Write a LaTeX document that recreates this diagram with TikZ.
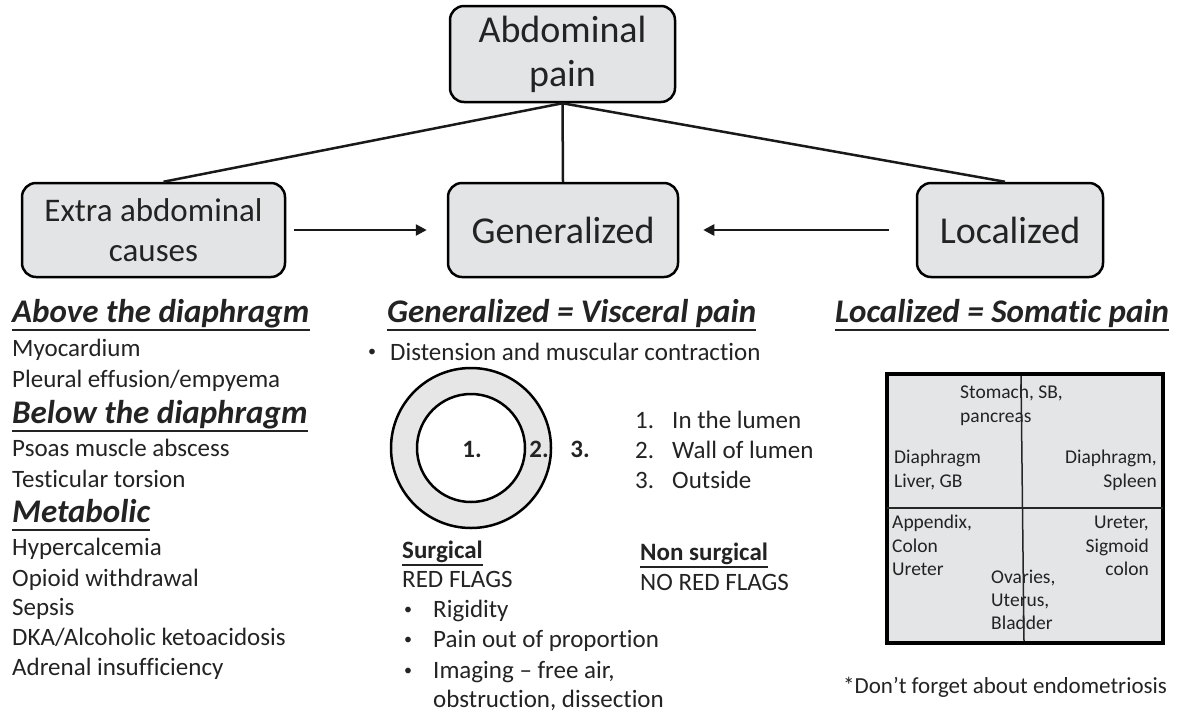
\documentclass[tikz,border=0pt]{standalone}
\usepackage{fontspec}
\setmainfont[Ligatures=NoCommon]{Carlito}
\usetikzlibrary{arrows.meta}
\definecolor{txt}{RGB}{35,35,35}
\definecolor{boxgray}{RGB}{227,228,230}
\definecolor{ringgray}{RGB}{230,230,230}
\definecolor{quadgray}{RGB}{228,229,231}
\newcommand\bodyf{\fontsize{25}{30}\selectfont}
\newcommand\quadf{\fontsize{19.5}{24}\selectfont}
\newcommand\headf{\fontsize{33}{38}\selectfont\bfseries\itshape}
\tikzset{
  box/.style={draw=black, line width=2.5pt, fill=boxgray, rounded corners=14pt,
    align=center, text=txt, inner sep=0pt},
  conn/.style={line width=2.5pt, draw=black!90},
  arr/.style={line width=2.5pt, draw=black!90, -{Triangle[length=11pt,width=11pt]}},
  lbl/.style={anchor=base west, inner sep=0pt, text=txt, font=\bodyf},
  bul/.style={anchor=base west, inner sep=0pt, text=txt, font=\fontsize{16}{20}\selectfont},
  lble/.style={anchor=base east, inner sep=0pt, text=txt, font=\quadf},
  qlbl/.style={anchor=base west, inner sep=0pt, text=txt, font=\quadf},
  head/.style={anchor=base west, inner sep=0pt, text=txt, font=\headf},
  sub/.style={anchor=base west, inner sep=0pt, text=txt, font=\bodyf\bfseries},
  ul/.style={line width=2.5pt, draw=txt},
  ring/.style={circle, draw=black, line width=2.5pt, inner sep=0pt},
}
\begin{document}
\begin{tikzpicture}[x=1pt,y=-1pt]
\useasboundingbox (0,0) rectangle (1178,713);
\fill[white] (0,0) rectangle (1178,713);

% boxes
\node[box, minimum width=225pt, minimum height=96pt, font=\fontsize{38}{44}\selectfont] (abd) at (562.5,54) {Abdominal\\pain};
\node[box, minimum width=263pt, minimum height=94pt, font=\fontsize{33}{40}\selectfont] (extra) at (153.5,230) {Extra abdominal\\causes};
\node[box, minimum width=230pt, minimum height=94pt, font=\fontsize{38}{44}\selectfont] (gen) at (563,230) {Generalized};
\node[box, minimum width=186pt, minimum height=94pt, font=\fontsize{38}{44}\selectfont] (loc) at (1010,230) {Localized};

% connectors
\draw[conn] (abd.south) -- (gen.north);
\draw[conn] (abd.south) -- ([xshift=10pt]extra.north);
\draw[conn] (abd.south) -- ([xshift=-5pt]loc.north);
\draw[arr] ([xshift=8pt]extra.east) -- ([xshift=-20pt]gen.west);
\draw[arr] ([xshift=-27pt]loc.west) -- ([xshift=24pt]gen.east);

% left column
\node[head] (h1) at (12,322) {Above the diaphragm};
\draw[ul] ([yshift=-8pt]h1.base west) -- ([yshift=-8pt]h1.base east);
\node[lbl] (l1) at (12,356) {Myocardium};
\node[lbl] (l2) at (12,387) {Pleural effusion/empyema};
\node[head] (h2) at (12,423) {Below the diaphragm};
\draw[ul] ([yshift=-8pt]h2.base west) -- ([yshift=-8pt]h2.base east);
\node[lbl] (l3) at (12,456) {Psoas muscle abscess};
\node[lbl] (l4) at (12,487) {Testicular torsion};
\node[head] (h3) at (12,522) {Metabolic};
\draw[ul] ([yshift=-8pt]h3.base west) -- ([yshift=-8pt]h3.base east);
\node[lbl] (l5) at (12,555) {Hypercalcemia};
\node[lbl] (l6) at (12,586) {Opioid withdrawal};
\node[lbl] (l7) at (12,615) {Sepsis};
\node[lbl] (l8) at (12,645) {DKA/Alcoholic ketoacidosis};
\node[lbl] (l9) at (12,675) {Adrenal insufficiency};

% center column
\node[head] (h4) at (387,322) {Generalized = Visceral pain};
\draw[ul] ([yshift=-8pt]h4.base west) -- ([yshift=-8pt]h4.base east);
\node[bul] (b0) at (368,356) {•};
\node[lbl] (c0) at (390,360) {Distension and muscular contraction};

\node[ring, fill=ringgray, minimum size=160pt] (outer) at (471,448) {};
\node[ring, fill=white, minimum size=108pt] (inner) at (471,448) {};
\node[inner sep=0pt, text=txt, font=\bodyf\bfseries] (n1) at (472,449) {1.};
\node[inner sep=0pt, text=txt, font=\bodyf\bfseries] (n2) at (539,449) {2.};
\node[inner sep=0pt, text=txt, font=\bodyf\bfseries] (n3) at (580,449) {3.};

\node[lbl] (k1) at (635,428) {1.};
\node[lbl] (t1) at (672,428) {In the lumen};
\node[lbl] (k2) at (635,458) {2.};
\node[lbl] (t2) at (672,458) {Wall of lumen};
\node[lbl] (k3) at (635,488) {3.};
\node[lbl] (t3) at (672,488) {Outside};

\node[sub] (s1) at (402,558) {Surgical};
\draw[line width=2pt, draw=txt] ([yshift=-7pt]s1.base west) -- ([yshift=-7pt]s1.base east);
\node[lbl] (rf) at (402,587) {RED FLAGS};
\node[bul] (b1) at (404,614) {•};
\node[lbl] (r1) at (433,617) {Rigidity};
\node[bul] (b2) at (404,644) {•};
\node[lbl] (r2) at (433,647) {Pain out of proportion};
\node[bul] (b3) at (404,675) {•};
\node[lbl] (r3) at (433,678) {Imaging – free air,};
\node[lbl] (r4) at (433,707) {obstruction, dissection};

\node[sub] (s2) at (640,560) {Non surgical};
\draw[line width=2pt, draw=txt] ([yshift=-7pt]s2.base west) -- ([yshift=-7pt]s2.base east);
\node[lbl] (nrf) at (640,590) {NO RED FLAGS};

% right column
\node[head] (h5) at (835,322) {Localized = Somatic pain};
\draw[ul] ([yshift=-8pt]h5.base west) -- ([yshift=-8pt]h5.base east);

\draw[line width=4pt, fill=quadgray] (887,374) rectangle (1163,643);
\draw[line width=1.5pt, draw=black!85] (887,508) -- (1163,508);
\draw[line width=1.5pt, draw=black!85] (1021,376) -- (1024,641);

\node[qlbl] (q1) at (960,398) {Stomach, SB,};
\node[qlbl] (q2) at (960,422) {pancreas};
\node[qlbl] (q3) at (894,463) {Diaphragm};
\node[qlbl] (q4) at (894,487) {Liver, GB};
\node[lble] (q5) at (1157,463) {Diaphragm,};
\node[lble] (q6) at (1157,487) {Spleen};
\node[qlbl] (q7) at (892,528) {Appendix,};
\node[qlbl] (q8) at (892,552) {Colon};
\node[qlbl] (q9) at (892,575) {Ureter};
\node[lble] (q10) at (1149,528) {Ureter,};
\node[lble] (q11) at (1149,552) {Sigmoid};
\node[lble] (q12) at (1149,575) {colon};
\node[qlbl] (q13) at (991,583) {Ovaries,};
\node[qlbl] (q14) at (991,606) {Uterus,};
\node[qlbl] (q15) at (991,629) {Bladder};

\node[lbl, font=\fontsize{23}{28}\selectfont] (endo) at (843,693) {*Don’t forget about endometriosis};
\end{tikzpicture}
\end{document}
